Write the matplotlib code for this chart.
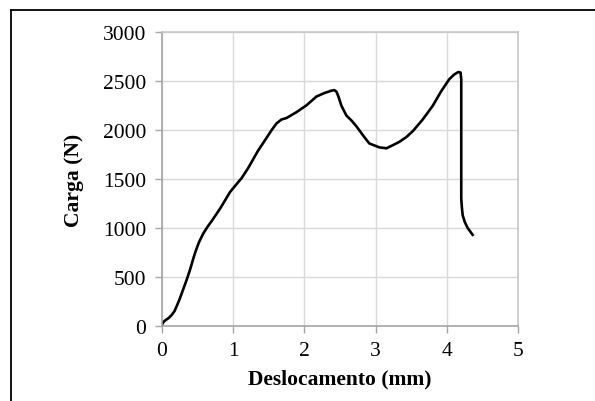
import numpy as np
import matplotlib.pyplot as plt
from matplotlib.lines import Line2D

# load-displacement curve
desloc = [0.0, 0.02, 0.05, 0.10, 0.14, 0.18, 0.21, 0.25, 0.30, 0.35, 0.40, 0.44, 0.47,
          0.52, 0.58, 0.64, 0.70, 0.82, 0.96, 1.04, 1.12, 1.21, 1.28, 1.35, 1.45, 1.54,
          1.61, 1.68, 1.75, 1.89, 2.03, 2.10, 2.17, 2.28, 2.38, 2.42, 2.45, 2.48, 2.52,
          2.59, 2.66, 2.73, 2.82, 2.91, 3.05, 3.15, 3.25, 3.33, 3.43, 3.52, 3.66, 3.80,
          3.92, 4.03, 4.10, 4.16, 4.19, 4.20, 4.20, 4.20, 4.21, 4.22, 4.25, 4.29, 4.36]
carga = [0, 35, 55, 80, 110, 150, 200, 270, 370, 470, 580, 680, 750,
         850, 940, 1010, 1070, 1200, 1370, 1440, 1510, 1610, 1700, 1790, 1900, 2000,
         2070, 2110, 2125, 2185, 2255, 2300, 2345, 2380, 2405, 2410, 2395, 2340, 2250,
         2150, 2100, 2040, 1950, 1865, 1825, 1815, 1850, 1880, 1930, 1990, 2110, 2250,
         2400, 2520, 2570, 2596, 2590, 2520, 2000, 1300, 1200, 1130, 1060, 1000, 930]
xticks = [0, 1, 2, 3, 4, 5]
yticks = [0, 500, 1000, 1500, 2000, 2500, 3000]

plt.rcParams['font.family'] = ['Liberation Serif', 'DejaVu Serif']

fig = plt.figure(figsize=(5.95, 4.02), dpi=100)
ax = fig.add_axes([0.2718, 0.1873, 0.5993, 0.7294])

ax.plot(desloc, carga, color='black', linewidth=1.9, solid_joinstyle='round')

ax.set_xlim(0, 5)
ax.set_ylim(0, 3000)
ax.set_xticks(xticks)
ax.set_yticks(yticks)
ax.grid(color='#d9d9d9', linewidth=1)
ax.set_axisbelow(True)
for side in ['left', 'bottom']:
    ax.spines[side].set_color('#a6a6a6')
    ax.spines[side].set_linewidth(1.2)
for side in ['top', 'right']:
    ax.spines[side].set_color('#c8c8c8')
    ax.spines[side].set_linewidth(1.2)
ax.tick_params(length=5, width=1, color='#a6a6a6', labelsize=15.5, pad=6)

ax.set_xlabel('Deslocamento (mm)', fontsize=15.5, fontweight='bold', labelpad=6)
ax.set_ylabel('Carga (N)', fontsize=15.5, fontweight='bold', labelpad=14)

# frame around the picture (left and top edges)
fig.add_artist(Line2D([11/595, 11/595], [0, 1 - 11/402], transform=fig.transFigure, color='black', linewidth=1.3))
fig.add_artist(Line2D([11/595, 1], [1 - 11/402, 1 - 11/402], transform=fig.transFigure, color='black', linewidth=1.3))

fig.savefig('out.png', dpi=100)
